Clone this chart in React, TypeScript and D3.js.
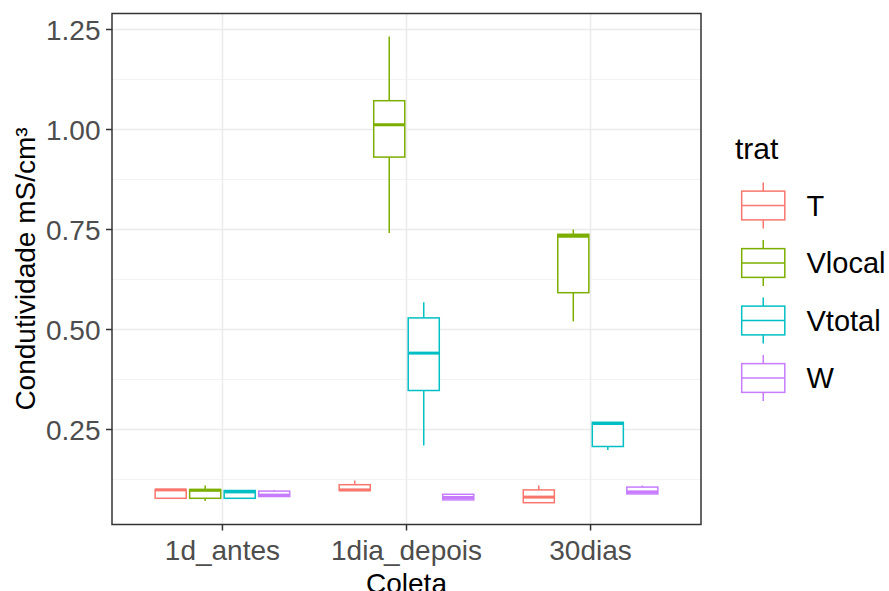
import React from "react";
import * as d3 from "d3";

const categories = ["1d_antes", "1dia_depois", "30dias"];
const groups = ["T", "Vlocal", "Vtotal", "W"];
const colors = ["#F8766D", "#7CAE00", "#00BFC4", "#C77CFF"];
const yTicks = [0.25, 0.5, 0.75, 1.0, 1.25];
const yMinor = [0.125, 0.375, 0.625, 0.875, 1.125];

// five-number summaries [min, q1, median, q3, max] per category
const statsT = [
  [0.078, 0.078, 0.099, 0.1, 0.1],
  [0.0975, 0.0975, 0.099, 0.112, 0.1225],
  [0.067, 0.067, 0.081, 0.099, 0.11],
];
const statsVlocal = [
  [0.071, 0.078, 0.098, 0.1, 0.11],
  [0.741, 0.931, 1.012, 1.072, 1.2325],
  [0.52, 0.592, 0.733, 0.738, 0.75],
];
const statsVtotal = [
  [0.078, 0.078, 0.094, 0.0975, 0.0975],
  [0.21, 0.3475, 0.441, 0.529, 0.568],
  [0.199, 0.2075, 0.265, 0.268, 0.268],
];
const statsW = [
  [0.0825, 0.0825, 0.086, 0.096, 0.099],
  [0.074, 0.074, 0.08, 0.088, 0.088],
  [0.089, 0.089, 0.094, 0.106, 0.11],
];
const allStats = [statsT, statsVlocal, statsVtotal, statsW];

const W = 889;
const H = 591;
const panel = { left: 112, right: 701, top: 13.5, bottom: 524.5 };
const FONT = "'Liberation Sans', Arial, sans-serif";

export default function App() {
  const y = d3.scaleLinear().domain([0, 1.25]).range([529.5, 29.5]);
  const x = d3
    .scaleLinear()
    .domain([-0.6, categories.length - 0.4])
    .range([panel.left, panel.right]);
  const slot = 0.75 / groups.length;
  const boxW = slot * 0.9;
  const pxW = x(boxW) - x(0);
  const lw = 1.5;

  const legendKey = 57.5;
  const legendX = 734.5;
  const legendY0 = 176.75;

  return (
    <svg width={W} height={H} style={{ position: "absolute", left: 0, top: 0 }} fontFamily={FONT}>
      <rect x={0} y={0} width={W} height={H} fill="#fff" />
      <defs>
        <clipPath id="panelclip">
          <rect x={panel.left} y={panel.top} width={panel.right - panel.left} height={panel.bottom - panel.top} />
        </clipPath>
      </defs>
      {/* grid */}
      {yMinor.map((v) => (
        <line key={"mn" + v} x1={panel.left} x2={panel.right} y1={y(v)} y2={y(v)} stroke="#F0F0F0" strokeWidth={0.8} />
      ))}
      {yTicks.map((v) => (
        <line key={"mj" + v} x1={panel.left} x2={panel.right} y1={y(v)} y2={y(v)} stroke="#EBEBEB" strokeWidth={1.5} />
      ))}
      {categories.map((c, i) => (
        <line key={"gx" + c} x1={x(i)} x2={x(i)} y1={panel.top} y2={panel.bottom} stroke="#EBEBEB" strokeWidth={1.5} />
      ))}
      {/* boxes */}
      <g clipPath="url(#panelclip)">
        {allStats.map((stats, g) =>
          stats.map((s, i) => {
            const cx = x(i + (g - (groups.length - 1) / 2) * slot);
            const [mn, q1, md, q3, mx] = s;
            const col = colors[g];
            return (
              <g key={groups[g] + i}>
                <line x1={cx} x2={cx} y1={y(q3)} y2={y(mx)} stroke={col} strokeWidth={lw} />
                <line x1={cx} x2={cx} y1={y(q1)} y2={y(mn)} stroke={col} strokeWidth={lw} />
                <rect
                  x={cx - pxW / 2}
                  y={y(q3)}
                  width={pxW}
                  height={Math.max(0.01, y(q1) - y(q3))}
                  fill="#fff"
                  stroke={col}
                  strokeWidth={lw}
                />
                <line x1={cx - pxW / 2} x2={cx + pxW / 2} y1={y(md)} y2={y(md)} stroke={col} strokeWidth={lw * 2} />
              </g>
            );
          })
        )}
      </g>
      {/* panel border */}
      <rect
        x={panel.left}
        y={panel.top}
        width={panel.right - panel.left}
        height={panel.bottom - panel.top}
        fill="none"
        stroke="#333333"
        strokeWidth={1.5}
      />
      {/* y axis */}
      {yTicks.map((v) => (
        <g key={"yt" + v}>
          <line x1={panel.left - 6} x2={panel.left} y1={y(v)} y2={y(v)} stroke="#333333" strokeWidth={1.5} />
          <text x={100.5} y={y(v)} dy="0.36em" textAnchor="end" fontSize={28} fill="#4D4D4D">
            {d3.format(".2f")(v)}
          </text>
        </g>
      ))}
      {/* x axis */}
      {categories.map((c, i) => (
        <g key={"xt" + c}>
          <line x1={x(i)} x2={x(i)} y1={panel.bottom} y2={panel.bottom + 6} stroke="#333333" strokeWidth={1.5} />
          <text x={x(i)} y={559.5} textAnchor="middle" fontSize={28} fill="#4D4D4D">
            {c}
          </text>
        </g>
      ))}
      <text x={(panel.left + panel.right) / 2} y={593} textAnchor="middle" fontSize={28} fill="#000">
        Coleta
      </text>
      <text
        transform={`translate(35,${(panel.top + panel.bottom) / 2}) rotate(-90)`}
        textAnchor="middle"
        fontSize={28}
        fill="#000"
      >
        Condutividade mS/cm³
      </text>
      {/* legend */}
      <text x={735} y={158.5} fontSize={30} fill="#000">
        trat
      </text>
      {groups.map((gname, g) => {
        const ky = legendY0 + g * legendKey;
        const kcx = legendX + legendKey / 2;
        const col = colors[g];
        return (
          <g key={"lg" + gname}>
            <line x1={kcx} x2={kcx} y1={ky + 0.1 * legendKey} y2={ky + 0.25 * legendKey} stroke={col} strokeWidth={lw} />
            <line x1={kcx} x2={kcx} y1={ky + 0.75 * legendKey} y2={ky + 0.9 * legendKey} stroke={col} strokeWidth={lw} />
            <rect
              x={legendX + 0.125 * legendKey}
              y={ky + 0.25 * legendKey}
              width={0.75 * legendKey}
              height={0.5 * legendKey}
              fill="#fff"
              stroke={col}
              strokeWidth={lw}
            />
            <line
              x1={legendX + 0.125 * legendKey}
              x2={legendX + 0.875 * legendKey}
              y1={ky + 0.5 * legendKey}
              y2={ky + 0.5 * legendKey}
              stroke={col}
              strokeWidth={lw}
            />
            <text x={806.5} y={ky + legendKey / 2} dy="0.36em" fontSize={29} fill="#000">
              {gname}
            </text>
          </g>
        );
      })}
    </svg>
  );
}
